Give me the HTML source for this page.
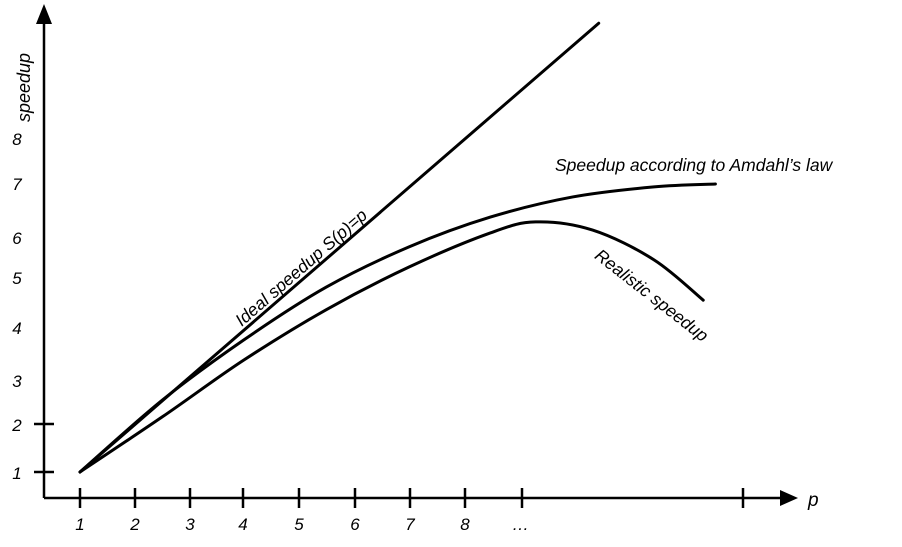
<!DOCTYPE html>
<html><head><meta charset="utf-8"><style>
body{margin:0;background:#fff;}
svg{display:block;font-family:"Liberation Sans",sans-serif;font-style:italic;}
</style></head><body>
<svg id="c" width="902" height="547">
<g id="axes">
<line x1="44" y1="498" x2="44" y2="22" stroke="#000" stroke-width="2.5"/>
<polygon points="36,24 52,24 44,4" fill="#000"/>
<line x1="44" y1="498" x2="782" y2="498" stroke="#000" stroke-width="2.5"/>
<polygon points="780,490 780,506 798,498" fill="#000"/>
<line x1="743" y1="488" x2="743" y2="508" stroke="#000" stroke-width="2.5"/>
<text x="808" y="506" font-size="19">p</text>
<text transform="translate(30,122) rotate(-90)" font-size="18">speedup</text>
<text x="522" y="530" font-size="17" text-anchor="middle" letter-spacing="3">…</text>
</g>
<g id="marks"></g>
<text x="555" y="171" font-size="17.5">Speedup according to Amdahl’s law</text>
<text transform="translate(305,272) rotate(-41)" font-size="17.5" text-anchor="middle">Ideal speedup S(p)=p</text>
<text transform="translate(648,300) rotate(38)" font-size="17.5" text-anchor="middle">Realistic speedup</text>
</svg>
<script>
const xTicks=[1,2,3,4,5,6,7,8,9];
const yTicks=[1,2];
const yLabels=[1,2,3,4,5,6,7,8];
const idealP=[1,10.38];
const idealS=[1,10.35];
const amdahlP=[1,2.49,3.96,5.45,6.95,8.42,9.91,11.38,12.49];
const amdahlS=[1,2.5,3.75,4.85,5.69,6.31,6.73,6.94,7.0];
const realP=[1,2.49,3.96,5.45,6.95,8.42,9.24,10.27,11.38,12.27];
const realS=[1,2.15,3.33,4.38,5.27,5.98,6.21,6.04,5.42,4.58];
const xTickPx=[80,135,190,243,299,355,410,465,522];
const yLabelPx=[472,424,380,327,277,237,183,138];
function xs(p){return 80+(p-1)*55.3;}
function ys(s){return 472-(s-1)*48;}
const NS="http://www.w3.org/2000/svg";
const axes=document.getElementById('axes'),marks=document.getElementById('marks');
function mk(t,a,parent){const e=document.createElementNS(NS,t);for(const k in a)e.setAttribute(k,a[k]);parent.appendChild(e);return e;}
xTicks.forEach((v,i)=>{const x=xTickPx[i];
 const l=mk('line',{x1:x,y1:488,x2:x,y2:508,stroke:'#000','stroke-width':2.5},axes);
 
 
 if(v<=8){const t=mk('text',{x:x,y:530,'font-size':17,'text-anchor':'middle'},axes);t.textContent=v;
 
 }
});
yTicks.forEach(v=>{const y=ys(v);
 const l=mk('line',{x1:34,y1:y,x2:54,y2:y,stroke:'#000','stroke-width':2.5},axes);
 
 });
yLabels.forEach((v,i)=>{const t=mk('text',{x:17,y:yLabelPx[i]+7,'font-size':17,'text-anchor':'middle'},axes);t.textContent=v;
 
 });
function path(P,S){const pts=P.map((p,i)=>[xs(p),ys(S[i])]);let d='M'+pts[0][0]+','+pts[0][1];
 for(let i=0;i<pts.length-1;i++){const p0=pts[Math.max(i-1,0)],p1=pts[i],p2=pts[i+1],p3=pts[Math.min(i+2,pts.length-1)];
 d+=' C'+(p1[0]+(p2[0]-p0[0])/6)+','+(p1[1]+(p2[1]-p0[1])/6)+' '+(p2[0]-(p3[0]-p1[0])/6)+','+(p2[1]-(p3[1]-p1[1])/6)+' '+p2[0]+','+p2[1];}
 return d;}
[[idealP,idealS,'ideal-speedup-line'],[amdahlP,amdahlS,'amdahl-speedup-curve'],[realP,realS,'realistic-speedup-curve']].forEach(([P,S,n])=>{
 const e=mk('path',{d:path(P,S),fill:'none',stroke:'#000','stroke-width':3,'stroke-linecap':'round'},marks);
 
 });
</script>
</body></html>
